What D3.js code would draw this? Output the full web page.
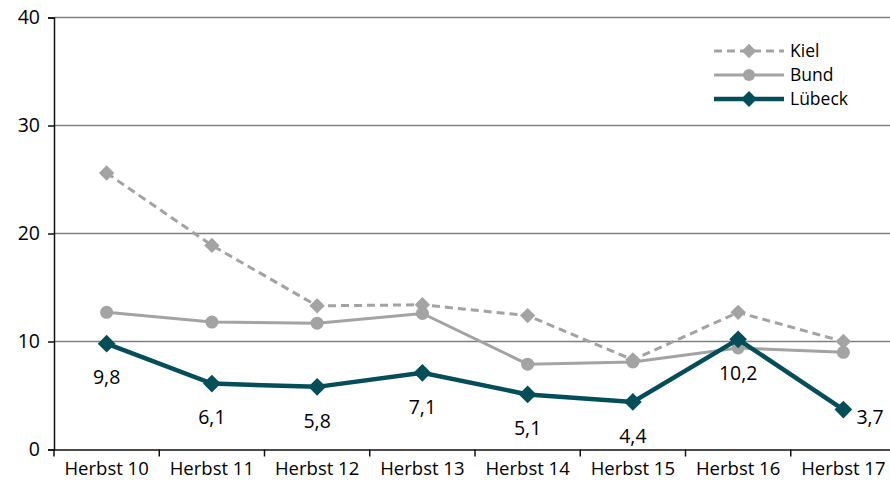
<!DOCTYPE html>
<html>
<head>
<meta charset="utf-8">
<script src="https://cdn.jsdelivr.net/npm/d3@7"></script>
<style>
  body { margin: 0; background: #fff; }
  svg text { font-family: "Open Sans", "Noto Sans", sans-serif; fill: #000; }
</style>
</head>
<body>
<div id="chart"></div>
<script>
// chart size
var width = 890,
    height = 489;

// data
var categories = ["Herbst 10", "Herbst 11", "Herbst 12", "Herbst 13", "Herbst 14", "Herbst 15", "Herbst 16", "Herbst 17"];
var kiel   = [25.6, 18.9, 13.3, 13.4, 12.4, 8.3, 12.7, 10.0];
var bund   = [12.7, 11.8, 11.7, 12.6, 7.9, 8.1, 9.4, 9.0];
var luebeck = [9.8, 6.1, 5.8, 7.1, 5.1, 4.4, 10.2, 3.7];
var luebeckLabels = ["9,8", "6,1", "5,8", "7,1", "5,1", "4,4", "10,2", "3,7"];
var yTicks = [0, 10, 20, 30, 40];

var margin = {top: 17.5, right: -6, bottom: 39.5, left: 54};

var svg = d3.select("#chart").append("svg")
    .attr("width", width)
    .attr("height", height);

var g = svg.append("g")
    .attr("transform", "translate(" + margin.left + "," + margin.top + ")");

var w = width - margin.left - margin.right,
    h = height - margin.top - margin.bottom;

var x = d3.scaleBand().domain(categories).range([0, w]);
var y = d3.scaleLinear().domain([0, 40]).range([h, 0]);

function cx(i) { return x(categories[i]) + x.bandwidth() / 2; }

// gridlines
g.append("g").selectAll("line")
    .data(yTicks.filter(function(d) { return d > 0; }))
  .enter().append("line")
    .attr("x1", 0).attr("x2", w)
    .attr("y1", function(d) { return y(d); })
    .attr("y2", function(d) { return y(d); })
    .attr("stroke", "#7f7f7f")
    .attr("stroke-width", 1.5);

// y axis
var yAxis = g.append("g")
    .call(d3.axisLeft(y).tickValues(yTicks).tickSize(6).tickPadding(8).tickFormat(d3.format("d")));
yAxis.select(".domain").attr("stroke", "#111").attr("stroke-width", 1.5);
yAxis.selectAll(".tick line").attr("stroke", "#111").attr("stroke-width", 1.5);
yAxis.selectAll("text").style("font-size", "19.5px").attr("fill", "#000");

// x axis
var xAxis = g.append("g")
    .attr("transform", "translate(0," + h + ")")
    .call(d3.axisBottom(x).tickSize(0).tickPadding(12));
xAxis.select(".domain").attr("stroke", "#111").attr("stroke-width", 1.5);
xAxis.selectAll("text").style("font-size", "18.5px").attr("fill", "#000");
// tick marks between categories
xAxis.selectAll(".sep")
    .data(d3.range(categories.length + 1))
  .enter().append("line")
    .attr("class", "sep")
    .attr("x1", function(i) { return i * x.step(); })
    .attr("x2", function(i) { return i * x.step(); })
    .attr("y1", 0).attr("y2", 7)
    .attr("stroke", "#111").attr("stroke-width", 1.5);

var line = d3.line()
    .x(function(d, i) { return cx(i); })
    .y(function(d) { return y(d); });

var diamond = d3.symbol().type(d3.symbolDiamond2);

// Kiel
g.append("path").datum(kiel)
    .attr("d", line).attr("fill", "none")
    .attr("stroke", "#a3a3a3").attr("stroke-width", 3)
    .attr("stroke-dasharray", "8,5");
g.append("g").selectAll("path")
    .data(kiel).enter().append("path")
    .attr("d", diamond.size(150))
    .attr("transform", function(d, i) { return "translate(" + cx(i) + "," + y(d) + ")"; })
    .attr("fill", "#a3a3a3");

// Bund
g.append("path").datum(bund)
    .attr("d", line).attr("fill", "none")
    .attr("stroke", "#a3a3a3").attr("stroke-width", 3);
g.append("g").selectAll("circle")
    .data(bund).enter().append("circle")
    .attr("cx", function(d, i) { return cx(i); })
    .attr("cy", function(d) { return y(d); })
    .attr("r", 6.5)
    .attr("fill", "#a3a3a3");

// Lübeck
g.append("path").datum(luebeck)
    .attr("d", line).attr("fill", "none")
    .attr("stroke", "#044e5a").attr("stroke-width", 4.5);
g.append("g").selectAll("path")
    .data(luebeck).enter().append("path")
    .attr("d", diamond.size(200))
    .attr("transform", function(d, i) { return "translate(" + cx(i) + "," + y(d) + ")"; })
    .attr("fill", "#044e5a");

// Lübeck value labels
g.append("g").selectAll("text")
    .data(luebeck).enter().append("text")
    .attr("x", function(d, i) { return i === luebeck.length - 1 ? cx(i) + 13 : cx(i); })
    .attr("y", function(d, i) { return i === luebeck.length - 1 ? y(d) + 8 : y(d) + 34; })
    .attr("dy", "0.35em")
    .attr("text-anchor", function(d, i) { return i === luebeck.length - 1 ? "start" : "middle"; })
    .style("font-size", "19.5px")
    .text(function(d, i) { return luebeckLabels[i]; });

// legend
var legendItems = [
  {name: "Kiel", color: "#a3a3a3", dash: "8,5", marker: "diamond", sw: 3},
  {name: "Bund", color: "#a3a3a3", dash: null, marker: "circle", sw: 3},
  {name: "Lübeck", color: "#044e5a", dash: null, marker: "diamond", sw: 4.5}
];
var legend = svg.append("g").attr("transform", "translate(714,51)");
var leg = legend.selectAll("g").data(legendItems).enter().append("g")
    .attr("transform", function(d, i) { return "translate(0," + (i * 24) + ")"; });
leg.append("line")
    .attr("x1", 0).attr("x2", 70)
    .attr("stroke", function(d) { return d.color; })
    .attr("stroke-width", function(d) { return d.sw; })
    .attr("stroke-dasharray", function(d) { return d.dash; });
leg.each(function(d) {
  var el = d3.select(this);
  if (d.marker === "circle") {
    el.append("circle").attr("cx", 35).attr("r", 6).attr("fill", d.color);
  } else {
    el.append("path").attr("d", diamond.size(d.sw > 3 ? 160 : 130)())
      .attr("transform", "translate(35,0)").attr("fill", d.color);
  }
});
leg.append("text")
    .attr("x", 76).attr("dy", "0.35em")
    .style("font-size", "17.5px")
    .text(function(d) { return d.name; });
</script>
</body>
</html>
